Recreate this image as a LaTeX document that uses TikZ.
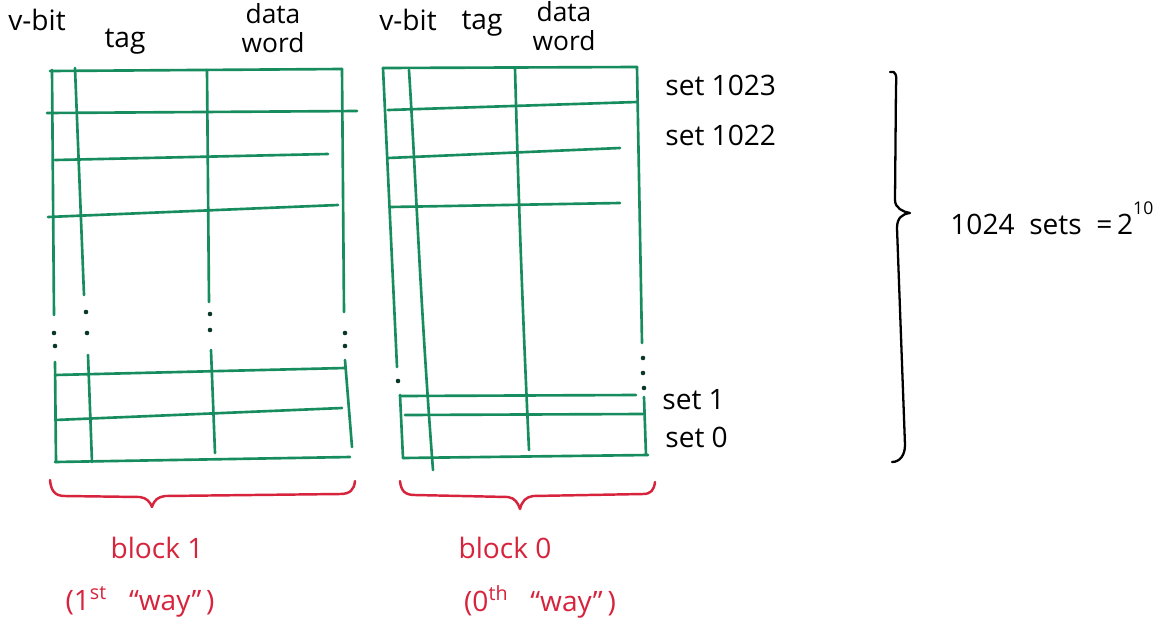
\documentclass[tikz,border=0pt]{standalone}
\usepackage{fontspec}
\setmainfont{Open Sans}
\definecolor{gr}{RGB}{22,140,95}
\definecolor{rd}{RGB}{215,35,60}
\begin{document}
\begin{tikzpicture}[x=0.02cm,y=-0.02cm,
  grid/.style={draw=gr,line width=1.5pt,line cap=round,line join=round},
  dotmark/.style={fill=gr!40!black,circle,inner sep=0pt,minimum size=2.6pt},
  redline/.style={draw=rd,line width=1.4pt,line cap=round,line join=round},
  blkline/.style={draw=black,line width=1.3pt,line cap=round,line join=round},
  lbl/.style={font=\fontsize{16}{18}\selectfont,inner sep=0pt},
  twolbl/.style={font=\fontsize{15}{16.5}\selectfont,inner sep=0pt,align=center},
  rlbl/.style={font=\fontsize{16}{18}\selectfont,text=rd,inner sep=0pt}]
\useasboundingbox[fill=white] (0,0) rectangle (1170,626);

% ---------- left block (block 1) ----------
\draw[grid] (50,71) -- (342,69);
\draw[grid] (52,70) -- (54,315);
\draw[grid] (55,362) -- (56,462);
\draw[grid] (75,68) -- (84,295);
\draw[grid] (88,355) -- (92,462);
\draw[grid] (207,70) -- (209,302);
\draw[grid] (211,350) -- (215,453);
\draw[grid] (342,69) -- (344,312);
\draw[grid] (345,360) -- (352,447);
\draw[grid] (47,113) -- (357,111);
\draw[grid] (55,160) -- (328,154);
\draw[grid] (48,217) -- (338,205);
\draw[grid] (55,375) -- (345,368);
\draw[grid] (55,420) -- (342,408);
\draw[grid] (55,462) -- (350,457);
\foreach \p in {(54,333),(55,346),(86,312),(87,333),(210,314),(210,330),(345,333),(345,346)}
  \node[dotmark] at \p {};

% ---------- right block (block 0) ----------
\draw[grid] (383,68) -- (637,67);
\draw[grid] (383,68) -- (397,367);
\draw[grid] (400,395) -- (403,458);
\draw[grid] (409,70) .. controls (416,180) and (420,300) .. (433,470);
\draw[grid] (515,68) .. controls (518,180) and (522,300) .. (529,450);
\draw[grid] (637,67) -- (642,343);
\draw[grid] (644,397) -- (646,455);
\draw[grid] (388,110) -- (637,102);
\draw[grid] (388,158) -- (620,148);
\draw[grid] (390,207) -- (620,203);
\draw[grid] (400,396) -- (636,395);
\draw[grid] (405,415) -- (643,414);
\draw[grid] (403,458) -- (648,455);
\foreach \p in {(398,381),(643,358),(643,373),(644,388)}
  \node[dotmark] at \p {};

% ---------- column labels ----------
\node[lbl] (vb1) at (37,20) {v-bit};
\node[lbl] (tg1) at (125,42) {tag};
\node[twolbl] (dw1) at (273,28) {data\\word};
\node[lbl] (vb2) at (408,20) {v-bit};
\node[lbl] (tg2) at (482,24) {tag};
\node[twolbl] (dw2) at (564,26) {data\\word};

% ---------- set labels ----------
\node[lbl,anchor=west] (s1023) at (665,85) {set 1023};
\node[lbl,anchor=west] (s1022) at (665,135) {set 1022};
\node[lbl,anchor=west] (s1) at (662,400) {set 1};
\node[lbl,anchor=west] (s0) at (665,437) {set 0};

% ---------- big brace ----------
\draw[blkline] (890,72) .. controls (896,70) and (897,76) .. (896,86) -- (895,200)
  .. controls (895,208) and (903,212) .. (910,213)
  .. controls (902,214) and (897,218) .. (897,228) -- (905,445)
  .. controls (905,455) and (900,462) .. (892,462);
\node[lbl,anchor=west] (tot) at (950,218) {1024\ \ sets\ \ =\,2\raisebox{1.3ex}{\fontsize{10}{12}\selectfont 10}};

% ---------- red braces ----------
\draw[redline] (50,480) .. controls (51,491) and (55,496) .. (65,496) -- (140,497)
  .. controls (147,498) and (150,502) .. (152,507)
  .. controls (154,500) and (158,497) .. (165,496) -- (340,494)
  .. controls (350,494) and (354,490) .. (355,481);
\draw[redline] (400,481) .. controls (401,491) and (405,495) .. (415,495) -- (508,497)
  .. controls (515,498) and (518,503) .. (520,509)
  .. controls (522,501) and (526,497) .. (533,496) -- (643,494)
  .. controls (651,494) and (654,490) .. (655,482);
\node[rlbl] (b1) at (157,548) {block 1};
\node[rlbl] (w1) at (140,602) {(1\textsuperscript{st}\ \ \ “way”\,)};
\node[rlbl] (b0) at (505,548) {block 0};
\node[rlbl] (w0) at (540,602) {(0\textsuperscript{th}\ \ \ “way”\,)};
\end{tikzpicture}
\end{document}
